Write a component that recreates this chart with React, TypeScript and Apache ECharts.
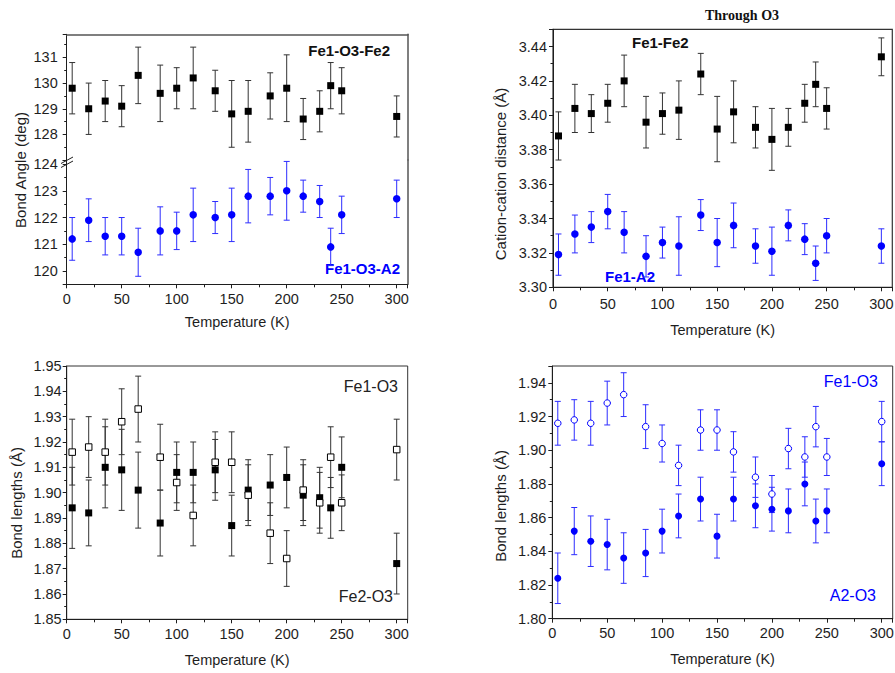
import React, { useEffect, useRef } from 'react';
import * as echarts from 'echarts';

// ---------- data ----------
const temps = [5, 20, 35, 50, 65, 85, 100, 115, 135, 150, 165, 185, 200, 215, 230, 240, 250, 300];

// Panel 1: bond angles (deg)
const angleFe1O3Fe2 = [129.8, 129.0, 129.3, 129.1, 130.3, 129.6, 129.8, 130.2, 129.7, 128.8, 128.9, 129.5, 129.8, 128.6, 128.9, 129.9, 129.7, 128.7];
const angleFe1O3Fe2Err = [1.0, 1.0, 0.8, 0.8, 1.1, 1.1, 0.8, 1.2, 0.8, 1.3, 1.2, 0.9, 1.3, 0.8, 0.8, 0.9, 0.9, 0.8];
const angleFe1O3A2 = [121.2, 121.9, 121.3, 121.3, 120.7, 121.5, 121.5, 122.1, 122.0, 122.1, 122.8, 122.8, 123.0, 122.8, 122.6, 120.9, 122.1, 122.7];
const angleFe1O3A2Err = [0.8, 0.8, 0.7, 0.7, 0.9, 0.9, 0.7, 1.0, 0.6, 1.0, 1.0, 0.7, 1.1, 0.6, 0.6, 0.7, 0.7, 0.7];

// Panel 2: cation-cation distances (Å)
const distFe1Fe2 = [3.388, 3.404, 3.401, 3.407, 3.420, 3.396, 3.401, 3.403, 3.424, 3.392, 3.402, 3.393, 3.386, 3.393, 3.407, 3.418, 3.404, 3.434];
const distFe1Fe2Err = [0.014, 0.014, 0.011, 0.011, 0.015, 0.015, 0.012, 0.017, 0.012, 0.019, 0.018, 0.012, 0.018, 0.011, 0.011, 0.013, 0.012, 0.011];
const distFe1A2 = [3.319, 3.331, 3.335, 3.344, 3.332, 3.318, 3.326, 3.324, 3.342, 3.326, 3.336, 3.324, 3.321, 3.336, 3.328, 3.314, 3.330, 3.324];
const distFe1A2Err = [0.012, 0.011, 0.009, 0.010, 0.012, 0.012, 0.009, 0.017, 0.009, 0.014, 0.013, 0.010, 0.014, 0.009, 0.009, 0.010, 0.010, 0.010];

// Panels 3 & 4: bond lengths (Å)
const lenFe1O3 = [1.916, 1.918, 1.916, 1.928, 1.933, 1.914, 1.904, 1.891, 1.912, 1.912, 1.899, 1.884, 1.874, 1.901, 1.896, 1.914, 1.896, 1.917];
const lenFe1O3Err = [0.013, 0.012, 0.013, 0.013, 0.013, 0.013, 0.011, 0.012, 0.012, 0.012, 0.012, 0.012, 0.011, 0.012, 0.012, 0.012, 0.011, 0.012];
const lenFe2O3 = [1.894, 1.892, 1.910, 1.909, 1.901, 1.888, 1.908, 1.908, 1.909, 1.887, 1.901, 1.903, 1.906, 1.899, 1.898, 1.894, 1.910, 1.872];
const lenFe2O3Err = [0.016, 0.013, 0.016, 0.016, 0.015, 0.013, 0.012, 0.012, 0.012, 0.012, 0.012, 0.012, 0.012, 0.012, 0.012, 0.012, 0.012, 0.012];
const lenA2O3 = [1.824, 1.852, 1.846, 1.844, 1.836, 1.839, 1.852, 1.861, 1.871, 1.849, 1.871, 1.867, 1.865, 1.864, 1.880, 1.858, 1.864, 1.892];
const lenA2O3Err = [0.015, 0.014, 0.015, 0.015, 0.015, 0.014, 0.013, 0.013, 0.013, 0.013, 0.013, 0.013, 0.013, 0.013, 0.013, 0.013, 0.013, 0.013];

// ---------- styling ----------
const FONT = '"Liberation Sans", Arial, Helvetica, sans-serif';
const INK = '#1e1e1e';
const FRAME = '#555';
const BLUE = '#0000ff';
const BLUE_BAR = '#2d2dff';
const BLACK_BAR = '#333';

const rows = (vals: number[], errs: number[]) => temps.map((t, i) => [t, vals[i], errs[i]]);

const errRender = (color: string) => (_p: any, api: any) => {
  const x = api.value(0);
  const y = api.value(1);
  const e = api.value(2);
  const top = api.coord([x, y + e]);
  const bot = api.coord([x, y - e]);
  const hw = 3;
  const style = { stroke: color, lineWidth: 1 };
  return {
    type: 'group',
    children: [
      { type: 'line', shape: { x1: top[0], y1: top[1], x2: bot[0], y2: bot[1] }, style },
      { type: 'line', shape: { x1: top[0] - hw, y1: top[1], x2: top[0] + hw, y2: top[1] }, style },
      { type: 'line', shape: { x1: bot[0] - hw, y1: bot[1], x2: bot[0] + hw, y2: bot[1] }, style },
    ],
  };
};

const errSeries = (xi: number, yi: number, vals: number[], errs: number[], color: string) => ({
  type: 'custom',
  xAxisIndex: xi,
  yAxisIndex: yi,
  renderItem: errRender(color),
  encode: { x: 0, y: 1 },
  data: rows(vals, errs),
  z: 2,
  silent: true,
});

const markSeries = (xi: number, yi: number, vals: number[], symbol: string, size: number, fill: string, border: string) => ({
  type: 'scatter',
  xAxisIndex: xi,
  yAxisIndex: yi,
  symbol,
  symbolSize: size,
  data: temps.map((t, i) => [t, vals[i]]),
  itemStyle: { color: fill, borderColor: border, borderWidth: fill === '#fff' ? 1 : 0, opacity: 1 },
  z: 3,
  silent: true,
});

const labelStyle = { color: INK, fontFamily: FONT, fontSize: 14.5 };

const xBottom = (gridIndex: number, nameGap: number, margin: number) => ({
  type: 'value',
  gridIndex,
  position: 'bottom',
  min: 0,
  max: 310,
  interval: 50,
  axisLine: { show: true, onZero: false, lineStyle: { color: INK, width: 1 } },
  axisTick: { show: true, inside: false, length: 4, lineStyle: { color: INK } },
  minorTick: { show: true, splitNumber: 2, length: 3, lineStyle: { color: INK } },
  axisLabel: { ...labelStyle, margin, showMaxLabel: false, showMinLabel: true },
  splitLine: { show: false },
  minorSplitLine: { show: false },
  name: 'Temperature (K)',
  nameLocation: 'middle',
  nameGap,
  nameTextStyle: { color: INK, fontFamily: FONT, fontSize: 14.5 },
});

const yLeft = (gridIndex: number, min: number, max: number, interval: number | null, margin: number, digits: number, showMax: boolean, showMin: boolean) => {
  const ax: any = {
    type: 'value',
    gridIndex,
    position: 'left',
    min,
    max,
    axisLine: { show: true, onZero: false, lineStyle: { color: INK, width: 1 } },
    axisTick: { show: true, inside: false, length: 4, lineStyle: { color: INK } },
    minorTick: { show: true, splitNumber: 2, length: 2.5, lineStyle: { color: INK } },
    axisLabel: {
      ...labelStyle,
      margin,
      showMaxLabel: showMax,
      showMinLabel: showMin,
      formatter: (v: number) => v.toFixed(digits),
    },
    splitLine: { show: false },
    minorSplitLine: { show: false },
  };
  if (interval !== null) ax.interval = interval;
  else ax.splitNumber = 5;
  return ax;
};

const frameAxis = (kind: 'x' | 'y', gridIndex: number, min: number, max: number, position: string) => ({
  type: 'value',
  gridIndex,
  position,
  min,
  max,
  axisLine: { show: true, onZero: false, lineStyle: { color: FRAME, width: 1.5 } },
  axisTick: { show: false },
  minorTick: { show: false },
  axisLabel: { show: false },
  splitLine: { show: false },
});

const text = (x: number, y: number, s: string, opts: any = {}) => ({
  type: 'text',
  x,
  y,
  rotation: opts.rotation || 0,
  silent: true,
  style: {
    text: s,
    font: opts.font || `15px ${FONT}`,
    fill: opts.fill || INK,
    textAlign: opts.align || 'left',
    align: opts.align || 'left',
    textVerticalAlign: 'middle',
    verticalAlign: 'middle',
  },
});

export default function App() {
  const ref = useRef<HTMLDivElement>(null);

  useEffect(() => {
    document.body.style.margin = '0';
    if (!ref.current) return;
    const chart = echarts.init(ref.current, null, { renderer: 'svg' });

    const gridBase = { outerBoundsMode: 'none', containLabel: false };
    const option: any = {
      animation: false,
      backgroundColor: '#fff',
      grid: [
        { ...gridBase, left: 66.7, top: 34.3, width: 341, height: 125.8 },
        { ...gridBase, left: 66.7, top: 160.1, width: 341, height: 124.2 },
        { ...gridBase, left: 553, top: 29.3, width: 339.3, height: 258, show: true, borderColor: '#333', borderWidth: 1.2, backgroundColor: 'transparent' },
        { ...gridBase, left: 66.7, top: 366, width: 341, height: 253.3, show: true, borderColor: '#333', borderWidth: 1, backgroundColor: 'transparent' },
        { ...gridBase, left: 552.3, top: 366, width: 340.4, height: 252.7, show: true, borderColor: '#333', borderWidth: 1, backgroundColor: 'transparent' },
      ],
      xAxis: [
        frameAxis('x', 0, 0, 310, 'top'),
        xBottom(1, 30, 7),
        xBottom(2, 35, 9),
        xBottom(3, 33, 7),
        xBottom(4, 33, 7),
      ],
      yAxis: [
        yLeft(0, 127, 131.9, 1, 9, 0, false, false),
        frameAxis('y', 0, 127, 131.9, 'right'),
        yLeft(1, 119.5, 124.15, null, 9, 0, false, false),
        frameAxis('y', 1, 119.5, 124.15, 'right'),
        yLeft(2, 3.3, 3.45, 0.02, 6, 2, false, true),
        yLeft(3, 1.85, 1.95, 0.01, 5, 2, true, true),
        yLeft(4, 1.8, 1.95, 0.02, 6, 2, false, true),
      ],
      series: [
        errSeries(0, 0, angleFe1O3Fe2, angleFe1O3Fe2Err, BLACK_BAR),
        markSeries(0, 0, angleFe1O3Fe2, 'rect', 7, '#000', '#000'),
        errSeries(1, 2, angleFe1O3A2, angleFe1O3A2Err, BLUE_BAR),
        markSeries(1, 2, angleFe1O3A2, 'circle', 7.5, BLUE, BLUE),

        errSeries(2, 4, distFe1Fe2, distFe1Fe2Err, BLACK_BAR),
        markSeries(2, 4, distFe1Fe2, 'rect', 7, '#000', '#000'),
        errSeries(2, 4, distFe1A2, distFe1A2Err, BLUE_BAR),
        markSeries(2, 4, distFe1A2, 'circle', 7.5, BLUE, BLUE),

        errSeries(3, 5, lenFe1O3, lenFe1O3Err, BLACK_BAR),
        errSeries(3, 5, lenFe2O3, lenFe2O3Err, BLACK_BAR),
        markSeries(3, 5, lenFe2O3, 'rect', 7, '#000', '#000'),
        markSeries(3, 5, lenFe1O3, 'rect', 6.5, '#fff', '#000'),

        errSeries(4, 6, lenFe1O3, lenFe1O3Err, BLUE_BAR),
        errSeries(4, 6, lenA2O3, lenA2O3Err, BLUE_BAR),
        markSeries(4, 6, lenA2O3, 'circle', 7, BLUE, BLUE),
        markSeries(4, 6, lenFe1O3, 'circle', 6.5, '#fff', BLUE),
      ],
      graphic: [
        // axis break marker
        { type: 'line', silent: true, shape: { x1: 61, y1: 163.5, x2: 73, y2: 157 }, style: { stroke: INK, lineWidth: 1 } },
        { type: 'line', silent: true, shape: { x1: 61, y1: 167.5, x2: 73, y2: 161 }, style: { stroke: INK, lineWidth: 1 } },
        // y-axis titles
        text(20, 170, 'Bond Angle (deg)', { rotation: Math.PI / 2, align: 'center' }),
        text(500, 174, 'Cation-cation distance (Å)', { rotation: Math.PI / 2, align: 'center' }),
        text(16, 503, 'Bond lengths (Å)', { rotation: Math.PI / 2, align: 'center' }),
        text(500.5, 506, 'Bond lengths (Å)', { rotation: Math.PI / 2, align: 'center' }),
        // series labels
        text(390, 50, 'Fe1-O3-Fe2', { font: `bold 15px ${FONT}`, align: 'right', fill: '#111' }),
        text(400, 268.5, 'Fe1-O3-A2', { font: `bold 15px ${FONT}`, align: 'right', fill: BLUE }),
        text(632, 42.7, 'Fe1-Fe2', { font: `bold 15px ${FONT}`, fill: '#111' }),
        text(605, 276, 'Fe1-A2', { font: `bold 15px ${FONT}`, fill: BLUE }),
        text(742, 15, 'Through O3', { font: `bold 14px "Liberation Serif", "Times New Roman", serif`, align: 'center', fill: '#111' }),
        text(398, 386.5, 'Fe1-O3', { font: `16px ${FONT}`, align: 'right', fill: '#222' }),
        text(393, 596.7, 'Fe2-O3', { font: `16px ${FONT}`, align: 'right', fill: '#222' }),
        text(878, 381.7, 'Fe1-O3', { font: `16px ${FONT}`, align: 'right', fill: BLUE }),
        text(876, 595, 'A2-O3', { font: `16px ${FONT}`, align: 'right', fill: BLUE }),
      ],
    };

    chart.setOption(option);
    return () => chart.dispose();
  }, []);

  return (
    <div
      ref={ref}
      style={{ position: 'absolute', left: 0, top: 0, width: 895, height: 673, background: '#fff' }}
    />
  );
}
